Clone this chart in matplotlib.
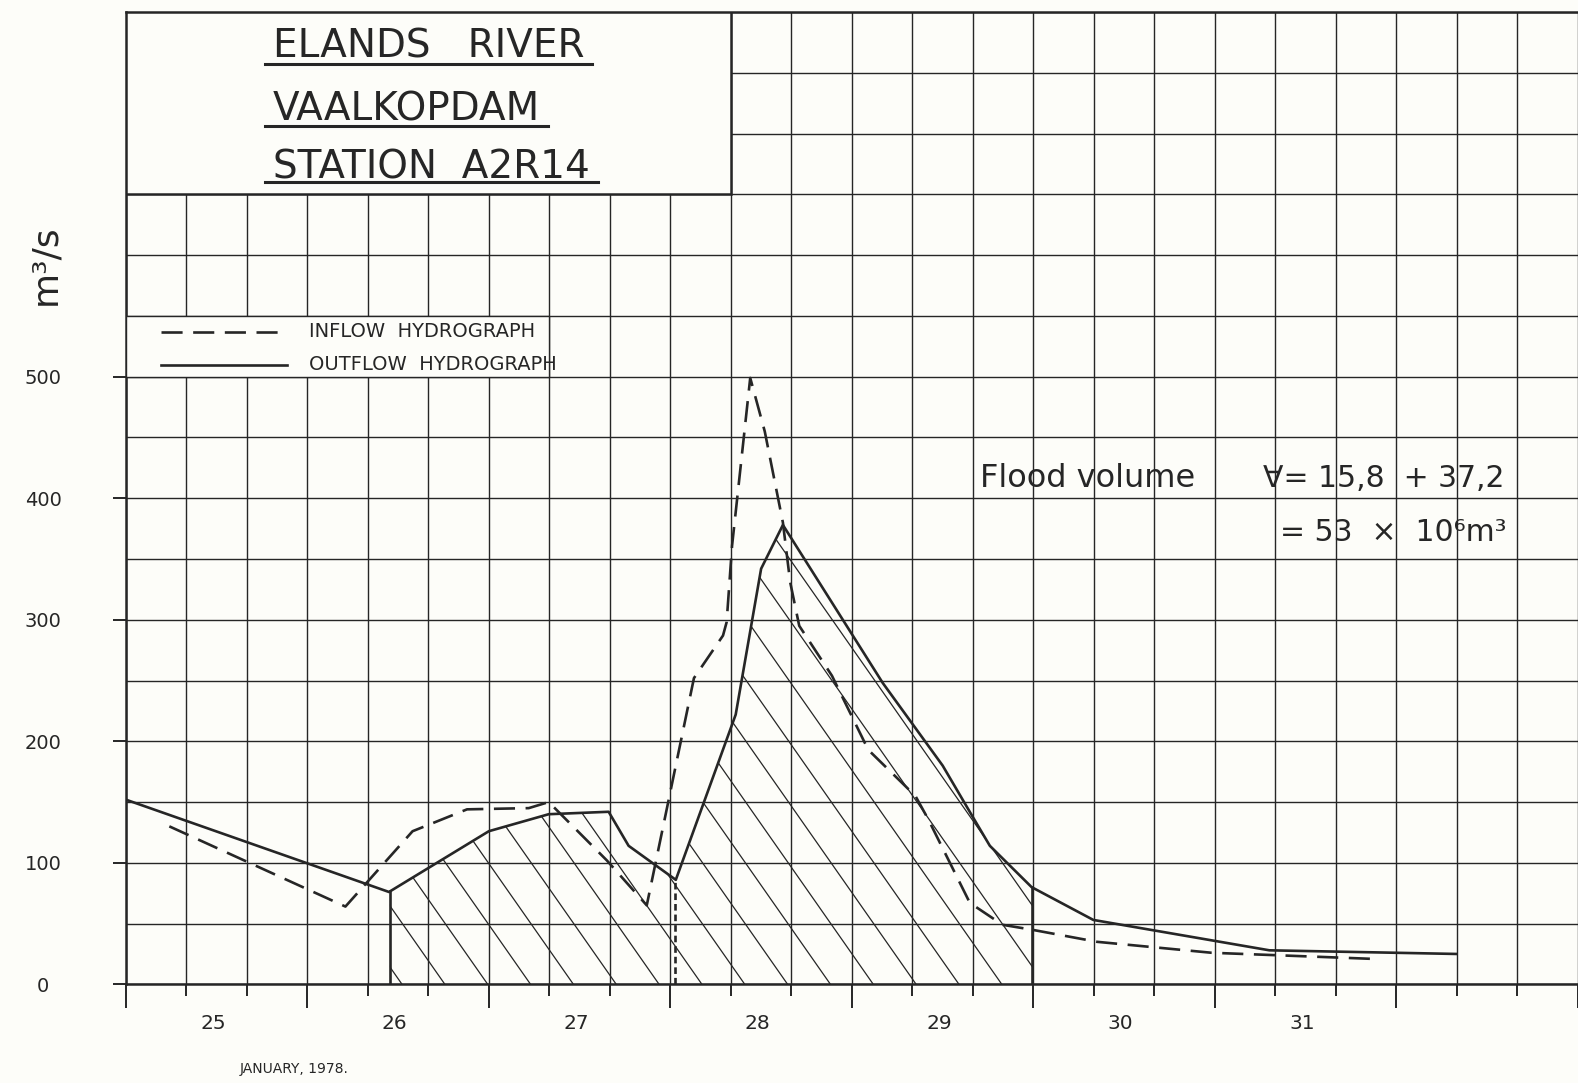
import numpy as np
import matplotlib.pyplot as plt
from matplotlib.patches import Rectangle, Polygon
from matplotlib.ticker import FixedLocator, MultipleLocator
from matplotlib.transforms import blended_transform_factory

# time in days counted from 00:00 on 25 January 1978, discharge in m3/s
outflow_day = [0.0, 1.45, 2.0, 2.33, 2.66, 2.77, 3.03, 3.36, 3.50, 3.62,
               4.17, 4.50, 4.665, 4.76, 4.99, 5.33, 6.30, 7.33]
outflow_q = [152, 76, 126, 140, 142, 114, 86, 222, 342, 378,
             248, 180, 138, 114, 80, 53, 28, 25]

inflow_day = [0.24, 1.21, 1.58, 1.88, 2.22, 2.33, 2.65, 2.87, 3.13, 3.29,
              3.31, 3.34, 3.44, 3.52, 3.62, 3.66, 3.71, 3.89, 4.09, 4.35,
              4.42, 4.65, 4.83, 4.99, 5.35, 5.98, 6.86]
inflow_q = [130, 64, 126, 144, 145, 150, 102, 65, 252, 287,
            298, 361, 499, 455, 380, 331, 295, 254, 193, 155,
            136, 67, 49, 45, 35, 26, 21]

day_labels = ["25", "26", "27", "28", "29", "30", "31"]
y_ticks = [0, 100, 200, 300, 400, 500]

# limits of the hatched flood volume (start, split, end) in days
hatch_start, hatch_split, hatch_end = 1.455, 3.027, 4.993

INK = "#262626"
PAPER = "#fdfdf9"

fig = plt.figure(figsize=(15.78, 10.83), dpi=100, facecolor=PAPER)
ax = fig.add_axes([0.0797, 0.0911, 0.9203, 0.8977], facecolor=PAPER)
ax.set_xlim(0, 8)
ax.set_ylim(0, 800)

# grid: 1/3 day by 50 m3/s
ax.xaxis.set_major_locator(MultipleLocator(1))
ax.xaxis.set_minor_locator(FixedLocator(np.arange(0, 25) / 3))
ax.set_yticks(y_ticks)
ax.set_yticklabels([str(v) for v in y_ticks], ha="center", fontsize=14)
ax.yaxis.set_minor_locator(MultipleLocator(50))
ax.grid(which="both", color=INK, lw=1.0)
ax.set_axisbelow(True)

ax.tick_params(axis="x", which="major", length=17, width=1.4, color=INK,
               labelbottom=False)
ax.tick_params(axis="x", which="minor", length=8.5, width=1.4, color=INK)
ax.tick_params(axis="y", which="major", length=9.5, width=1.4, color=INK,
               pad=50, labelcolor=INK)
ax.tick_params(axis="y", which="minor", length=0)

for s in ["left", "bottom", "top"]:
    ax.spines[s].set_color(INK)
    ax.spines[s].set_linewidth(1.8)
ax.spines["right"].set_visible(False)

# hatched area under the outflow curve
d = np.asarray(outflow_day)
q = np.asarray(outflow_q)
inside = (d > hatch_start) & (d < hatch_end)
q_start = np.interp(hatch_start, d, q)
q_split = np.interp(hatch_split, d, q)
q_end = np.interp(hatch_end, d, q)
poly_x = np.r_[hatch_start, hatch_start, d[inside], hatch_end, hatch_end]
poly_y = np.r_[0, q_start, q[inside], q_end, 0]
clip = Polygon(np.c_[poly_x, poly_y], closed=True, fc="none", ec="none",
               transform=ax.transData)
ax.add_patch(clip)

p0 = ax.transData.transform((0, 0))
p1 = ax.transData.transform((1, 1))
# hatch lines at about 55 degrees on screen
days_per_q = (p1[1] - p0[1]) / (p1[0] - p0[0]) / np.tan(np.radians(55))
for x0 in np.arange(1.522, 8.5, 0.236):
    ln, = ax.plot([x0, x0 - 800 * days_per_q], [0, 800], color=INK, lw=0.9,
                  zorder=2)
    ln.set_clip_path(clip)

ax.plot([hatch_start, hatch_start], [0, q_start], color=INK, lw=1.9, zorder=3)
ax.plot([hatch_end, hatch_end], [0, q_end], color=INK, lw=1.9, zorder=3)
ax.plot([hatch_split, hatch_split], [0, q_split], color=INK, lw=1.9,
        dashes=(2.5, 1.5), zorder=3)

# hydrographs
ax.plot(outflow_day, outflow_q, color=INK, lw=1.9, zorder=3)
ax.plot(inflow_day, inflow_q, color=INK, lw=1.9, dashes=(8, 4), zorder=3)

# title box
ax.add_patch(Rectangle((0, 650), 10 / 3, 150, fc=PAPER, ec=INK, lw=1.8, zorder=3))
title_lines = ["ELANDS   RIVER", "VAALKOPDAM", "STATION  A2R14"]
title_base = [763, 711, 663]
title_under = [757, 706, 660]
title_texts = []
for txt, yb in zip(title_lines, title_base):
    t = ax.text(0.81, yb, txt, fontsize=28, color=INK, ha="left",
                va="baseline", zorder=4)
    title_texts.append(t)

# legend
ax.add_patch(Rectangle((0, 500), 7 / 3, 50, fc=PAPER, ec=INK, lw=1.0, zorder=3))
ax.plot([0.194, 0.886], [537, 537], color=INK, lw=1.9, dashes=(8, 4), zorder=4)
ax.plot([0.194, 0.886], [510, 510], color=INK, lw=1.9, zorder=4)
ax.text(1.01, 537, "INFLOW  HYDROGRAPH", fontsize=14, color=INK,
        ha="left", va="center", zorder=4)
ax.text(1.01, 510, "OUTFLOW  HYDROGRAPH", fontsize=14, color=INK,
        ha="left", va="center", zorder=4)

# flood volume note
ax.text(4.707, 409, "Flood volume", fontsize=23, color=INK, ha="left",
        va="baseline", zorder=4)
ax.text(6.262, 409, "\u2200= 15,8  + 37,2", fontsize=21.5, color=INK, ha="left",
        va="baseline", zorder=4)
ax.text(6.36, 365, "= 53  \u00d7  10\u2076m\u00b3", fontsize=21.5, color=INK,
        ha="left", va="baseline", zorder=4)

# axis texts
bx = blended_transform_factory(ax.transData, ax.transAxes)
for i, lab in enumerate(day_labels):
    ax.text(i + 0.48, -0.0403, lab, transform=bx, fontsize=14.5, color=INK,
            ha="center", va="center")
by = blended_transform_factory(ax.transAxes, ax.transData)
ax.text(-0.0554, 592, "m\u00b3/s", transform=by, rotation=90, fontsize=26,
        color=INK, ha="center", va="center")
ax.text(0.626, -70, "JANUARY, 1978.", fontsize=10, color=INK, ha="left",
        va="center", clip_on=False)

# underline the title lines
fig.canvas.draw()
inv = ax.transData.inverted()
for t, yu in zip(title_texts, title_under):
    bb = t.get_window_extent()
    xa = inv.transform((bb.x0 - 8, 0))[0]
    xb = inv.transform((bb.x1 + 8, 0))[0]
    ax.plot([xa, xb], [yu, yu], color=INK, lw=2.2, zorder=4)

fig.savefig("out.png", dpi=100, facecolor=PAPER)
